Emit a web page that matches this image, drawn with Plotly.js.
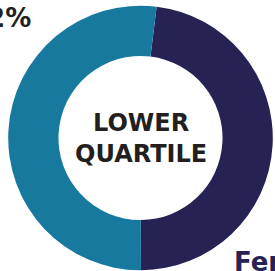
<!DOCTYPE html>
<html>
<head>
<meta charset="utf-8">
<script src="https://cdn.plot.ly/plotly-3.0.1.min.js"></script>
<style>html,body{margin:0;padding:0;background:#fff;}#chart{width:275px;height:271px;}</style>
</head>
<body>
<div id="chart"></div>
<script>
var labels = ["Female", "Male"];
var values = [48, 52];
var colors = ["#262254", "#18799f"];
var centerTitle = ["LOWER", "QUARTILE"];
var pctLabels = ["48%", "52%"];

var W = 275, H = 271;
function px(x){ return x / W; }
function py(y){ return 1 - y / H; }

var cx = 140.5, cy = 138, r = 132.3;
var fontFam = "DejaVu Sans, sans-serif";

var data = [{
  type: "pie",
  labels: labels,
  values: values,
  hole: 0.62,
  sort: false,
  direction: "clockwise",
  rotation: 7,
  textinfo: "none",
  hoverinfo: "none",
  marker: {colors: colors, line: {width: 0}},
  domain: {x: [px(cx - r), px(cx + r)], y: [py(cy + r), py(cy - r)]},
  showlegend: false
}];

var layout = {
  width: W, height: H,
  margin: {l: 0, r: 0, t: 0, b: 0},
  paper_bgcolor: "#ffffff",
  showlegend: false,
  annotations: [
    {xref: "paper", yref: "paper", x: px(cx), y: py(cy + 0.5), xanchor: "center", yanchor: "middle",
     text: "<b>" + centerTitle.join("<br>") + "</b>", showarrow: false,
     font: {family: fontFam, size: 24, color: "#231f20"}},
    {xref: "paper", yref: "paper", x: px(33), y: py(1), xanchor: "right", yanchor: "top",
     text: "<b>" + pctLabels[1] + "</b>", showarrow: false,
     font: {family: fontFam, size: 26, color: "#231f20"}},
    {xref: "paper", yref: "paper", x: px(232), y: py(245), xanchor: "left", yanchor: "top",
     text: "<b>" + labels[0] + "</b>", showarrow: false,
     font: {family: fontFam, size: 26, color: "#262254"}}
  ]
};

Plotly.newPlot("chart", data, layout, {staticPlot: true, displayModeBar: false});
</script>
</body>
</html>
